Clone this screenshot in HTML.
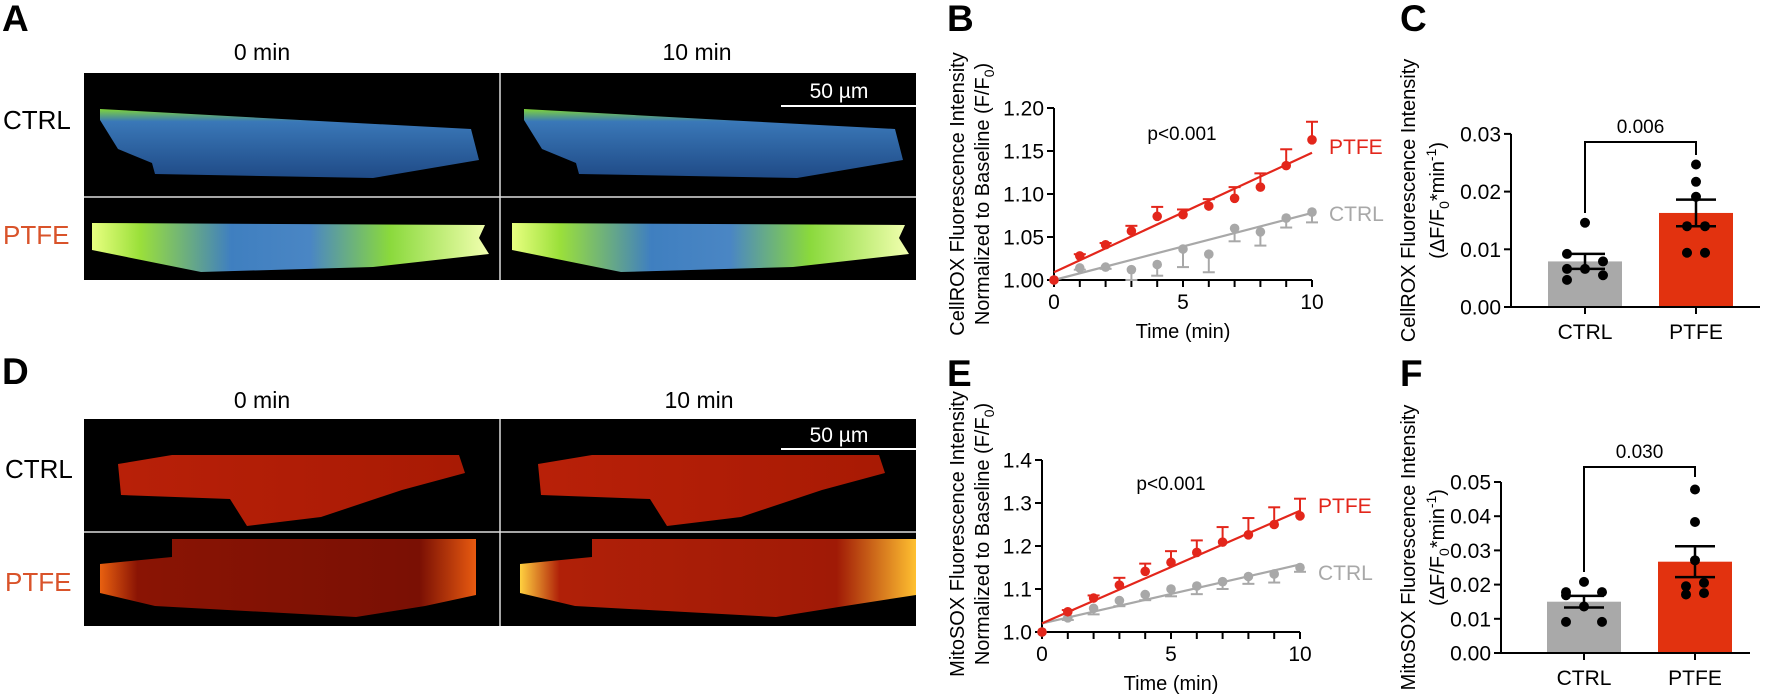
<!DOCTYPE html>
<html><head><meta charset="utf-8">
<style>
html,body{margin:0;padding:0;background:#fff;}
svg{display:block;font-family:"Liberation Sans",Arial,sans-serif;}
</style></head>
<body>
<svg id="fig" width="1772" height="699" viewBox="0 0 1772 699" xmlns="http://www.w3.org/2000/svg">
<defs>
 <linearGradient id="gCtrl" x1="0" y1="0" x2="0" y2="1">
  <stop offset="0" stop-color="#7fd43a"/><stop offset="0.18" stop-color="#3a78b8"/><stop offset="1" stop-color="#1f4a86"/>
 </linearGradient>
 <linearGradient id="gPtfe" x1="0" y1="0" x2="1" y2="0">
  <stop offset="0" stop-color="#e8ff80"/><stop offset="0.12" stop-color="#9be03a"/><stop offset="0.35" stop-color="#3f7fc0"/><stop offset="0.55" stop-color="#4a86c4"/><stop offset="0.75" stop-color="#8ad93c"/><stop offset="1" stop-color="#f2ffb0"/>
 </linearGradient>
 <linearGradient id="rCtrl" x1="0" y1="0" x2="1" y2="0">
  <stop offset="0" stop-color="#b82008"/><stop offset="1" stop-color="#a81a04"/>
 </linearGradient>
 <linearGradient id="rPtfe0" x1="0" y1="0" x2="1" y2="0">
  <stop offset="0" stop-color="#e86010"/><stop offset="0.1" stop-color="#8a1404"/><stop offset="0.85" stop-color="#7a1004"/><stop offset="1" stop-color="#e85a10"/>
 </linearGradient>
 <linearGradient id="rPtfe1" x1="0" y1="0" x2="1" y2="0">
  <stop offset="0" stop-color="#ffd040"/><stop offset="0.1" stop-color="#b02008"/><stop offset="0.8" stop-color="#a01a06"/><stop offset="1" stop-color="#ffc030"/>
 </linearGradient>
</defs>

<!-- Panel letters -->
<g font-weight="bold" font-size="37" fill="#000">
 <text x="2" y="31">A</text>
 <text x="947" y="31">B</text>
 <text x="1400" y="31">C</text>
 <text x="2" y="384">D</text>
 <text x="947" y="386">E</text>
 <text x="1400" y="386">F</text>
</g>

<!-- Panel A images -->
<g>
 <text x="262" y="60" font-size="23" text-anchor="middle">0 min</text>
 <text x="697" y="60" font-size="23" text-anchor="middle">10 min</text>
 <text x="3" y="129" font-size="26">CTRL</text>
 <text x="3" y="244" font-size="26" fill="#d9532a">PTFE</text>
 <rect x="84" y="73" width="832" height="207" fill="#000"/>
 <polygon fill="url(#gCtrl)" points="100,109 300,120 471,129 479,160 373,178 155,174 152,163 118,149 100,120"/>
 <polygon fill="url(#gCtrl)" points="524,109 724,120 895,129 903,160 797,178 579,174 576,163 542,149 524,120"/>
 <polygon fill="url(#gPtfe)" points="92,223 485,225 479,238 489,254 373,267 201,272 92,250"/>
 <polygon fill="url(#gPtfe)" points="512,223 905,225 899,238 909,254 793,267 621,272 512,250"/>
 <line x1="84" y1="197" x2="916" y2="197" stroke="#ddd" stroke-width="1.5"/>
 <line x1="500" y1="73" x2="500" y2="280" stroke="#ddd" stroke-width="1.5"/>
 <line x1="781" y1="106" x2="916" y2="106" stroke="#fff" stroke-width="2"/>
 <text x="839" y="98" font-size="21" fill="#fff" text-anchor="middle">50 µm</text>
</g>

<!-- Panel D images -->
<g>
 <text x="262" y="408" font-size="23" text-anchor="middle">0 min</text>
 <text x="699" y="408" font-size="23" text-anchor="middle">10 min</text>
 <text x="5" y="478" font-size="26">CTRL</text>
 <text x="5" y="591" font-size="26" fill="#d9532a">PTFE</text>
 <rect x="84" y="419" width="832" height="207" fill="#000"/>
 <polygon fill="url(#rCtrl)" points="118,464 172,455 459,455 465,473 402,490 321,517 247,526 230,499 121,495"/>
 <polygon fill="url(#rCtrl)" points="538,464 592,455 879,455 885,473 822,490 741,517 667,526 650,499 541,495"/>
 <polygon fill="url(#rPtfe0)" points="172,539 476,539 476,595 425,606 356,617 155,606 100,593 100,564 172,557"/>
 <polygon fill="url(#rPtfe1)" points="592,539 916,539 916,595 845,606 776,617 575,606 520,593 520,564 592,557"/>
 <line x1="84" y1="532" x2="916" y2="532" stroke="#ddd" stroke-width="1.5"/>
 <line x1="500" y1="419" x2="500" y2="626" stroke="#ddd" stroke-width="1.5"/>
 <line x1="781" y1="449" x2="916" y2="449" stroke="#fff" stroke-width="2"/>
 <text x="839" y="442" font-size="21" fill="#fff" text-anchor="middle">50 µm</text>
</g>

<g id="charts"></g>
</svg>

<script>
// ---- Panel B data (CellROX time course) ----
const timeB = [0,1,2,3,4,5,6,7,8,9,10];
const ptfeB = [1.000,1.028,1.041,1.057,1.074,1.076,1.086,1.095,1.108,1.133,1.163];
const ptfeErrB = [0,0.002,0.002,0.006,0.011,0.006,0.008,0.013,0.016,0.019,0.021];
const ctrlB = [1.000,1.014,1.015,1.012,1.018,1.036,1.030,1.060,1.056,1.072,1.079];
const ctrlErrB = [0,0.002,0.002,0.012,0.013,0.021,0.021,0.015,0.016,0.011,0.012];
const fitB = {ptfe:[1.009,1.148], ctrl:[1.000,1.078]};
const yTicksB = ["1.00","1.05","1.10","1.15","1.20"];
// ---- Panel E data (MitoSOX time course) ----
const timeE = [0,1,2,3,4,5,6,7,8,9,10];
const ptfeE = [1.000,1.047,1.079,1.109,1.141,1.162,1.185,1.209,1.226,1.250,1.270];
const ptfeErrE = [0,0.004,0.006,0.017,0.018,0.026,0.028,0.035,0.039,0.040,0.040];
const ctrlE = [1.000,1.033,1.055,1.073,1.087,1.100,1.107,1.117,1.129,1.135,1.150];
const ctrlErrE = [0,0.005,0.014,0.013,0.013,0.017,0.019,0.017,0.017,0.020,0.010];
const fitE = {ptfe:[1.020,1.282], ctrl:[1.020,1.157]};
const yTicksE = ["1.0","1.1","1.2","1.3","1.4"];
// ---- Panel C data (CellROX slopes) ----
const groups = ["CTRL","PTFE"];
const meanC = [0.0079,0.0163];
const semC = [0.0013,0.0023];
const ctrlDotsC = [0.0146,0.0092,0.0079,0.0066,0.0066,0.0047,0.0055];
const ptfeDotsC = [0.0247,0.0217,0.0191,0.0140,0.0094,0.0140,0.0094];
const yTicksC = ["0.00","0.01","0.02","0.03"];
const pC = "0.006";
// ---- Panel F data (MitoSOX slopes) ----
const meanF = [0.0150,0.0267];
const semF = [0.0017,0.0045];
const ctrlDotsF = [0.0208,0.0178,0.0178,0.0169,0.0136,0.0091,0.0091];
const ptfeDotsF = [0.0478,0.0383,0.0271,0.0195,0.0171,0.0205,0.0175];
const yTicksF = ["0.00","0.01","0.02","0.03","0.04","0.05"];
const pF = "0.030";

const NS = "http://www.w3.org/2000/svg";
const root = document.getElementById("charts");
const RED = "#e3261b", GRAY = "#a8a8a8";
function mk(tag, attrs, parent){
  const e = document.createElementNS(NS, tag);
  for (const k in attrs) e.setAttribute(k, attrs[k]);
  (parent||root).appendChild(e); return e;
}
function txt(x,y,s,size,anchor,fill,parent){
  const t = mk("text",{x:x,y:y,"font-size":size,"text-anchor":anchor||"start",fill:fill||"#000"},parent);
  t.textContent = s; return t;
}
// x-offsets for dots in bar charts (jitter layout)
const jitterOffsets = [[0,-1,1,-1,0,-1,1],[0,0,0,-0.5,-0.5,0.5,0.5]];

function lineChart(cfg){
  const g = mk("g",{});
  
  
  const xs = v => cfg.x0 + v*cfg.pxMin;
  const ys = v => cfg.y0 - (v-cfg.yMin)*cfg.pxUnit;
  const ticks = cfg.yTicks.map(Number);
  const yTop = ys(ticks[ticks.length-1]);
  // axes
  const ya = mk("line",{x1:cfg.x0,y1:yTop,x2:cfg.x0,y2:cfg.y0,stroke:"#000","stroke-width":2},g);
  
  
  const xa = mk("line",{x1:cfg.x0-1,y1:cfg.y0,x2:xs(10),y2:cfg.y0,stroke:"#000","stroke-width":2},g);
  
  
  cfg.yTicks.forEach(s=>{
    const y = ys(Number(s));
    mk("line",{x1:cfg.x0-7,y1:y,x2:cfg.x0,y2:y,stroke:"#000","stroke-width":2},g);
    const t = txt(cfg.x0-10,y+7.5,s,21,"end","#000",g);
    
    
  });
  cfg.times.forEach(v=>{
    const x = xs(v);
    mk("line",{x1:x,y1:cfg.y0,x2:x,y2:cfg.y0+7,stroke:"#000","stroke-width":2},g);
    if (v%5===0){
      const t = txt(x,cfg.y0+29,String(v),21,"middle","#000",g);
      
      
    }
  });
  const xt = txt(xs(5),cfg.y0+58,"Time (min)",20,"middle","#000",g);
  
  
  // fits
  [["ctrl",GRAY],["ptfe",RED]].forEach(([k,c])=>{
    const l = mk("line",{x1:xs(0),y1:ys(cfg.fit[k][0]),x2:xs(10),y2:ys(cfg.fit[k][1]),stroke:c,"stroke-width":2.2},g);
    
    
  });
  // series
  function series(vals, errs, color, dir, name){
    vals.forEach((v,i)=>{
      const x = xs(cfg.times[i]), y = ys(v);
      if (errs[i]>0){
        const ye = ys(v + dir*errs[i]);
        mk("line",{x1:x,y1:y,x2:x,y2:ye,stroke:color,"stroke-width":2},g);
        mk("line",{x1:x-6,y1:ye,x2:x+6,y2:ye,stroke:color,"stroke-width":2},g);
      }
      const c = mk("circle",{cx:x,cy:y,r:4.8,fill:color},g);
      
      
    });
  }
  series(cfg.ctrl, cfg.ctrlErr, GRAY, -1, "ctrl");
  series(cfg.ptfe, cfg.ptfeErr, RED, 1, "ptfe");
  const pl = txt(cfg.pX, cfg.pY, "p<0.001", 19, "middle", "#000", g);
  
  
  const l1 = txt(cfg.labX, cfg.ptfeLabY, "PTFE", 21, "start", RED, g);
  
  
  const l2 = txt(cfg.labX, cfg.ctrlLabY, "CTRL", 21, "start", GRAY, g);
  
  
  const cy = (yTop + cfg.y0)/2 + cfg.titleShift;
  const t1 = txt(0,0,cfg.title1,20,"middle","#000",g);
  t1.setAttribute("transform","translate("+cfg.t1x+","+cy+") rotate(-90)");
  
  
  const t2 = txt(0,0,"",20,"middle","#000",g);
  t2.setAttribute("transform","translate("+cfg.t2x+","+cy+") rotate(-90)");
  t2.innerHTML = 'Normalized to Baseline (F/F<tspan font-size="14" dy="5">0</tspan><tspan dy="-5">)</tspan>';
  
  
}

function barChart(cfg){
  const g = mk("g",{});
  
  
  const ys = v => cfg.y0 - v*cfg.pxUnit;
  const ticks = cfg.yTicks.map(Number);
  const yTop = ys(ticks[ticks.length-1]);
  const centers = [cfg.c0, cfg.c1];
  const colors = ["#a9a9a9","#e2320f"];
  // bars
  cfg.mean.forEach((m,i)=>{
    const b = mk("rect",{x:centers[i]-37,y:ys(m),width:74,height:cfg.y0-ys(m),fill:colors[i]},g);
    
    
  });
  const ya = mk("line",{x1:cfg.x0,y1:yTop,x2:cfg.x0,y2:cfg.y0+1,stroke:"#000","stroke-width":2},g);
  
  
  const xa = mk("line",{x1:cfg.x0,y1:cfg.y0,x2:cfg.xEnd,y2:cfg.y0,stroke:"#000","stroke-width":2},g);
  
  
  cfg.yTicks.forEach(s=>{
    const y = ys(Number(s));
    mk("line",{x1:cfg.x0-7,y1:y,x2:cfg.x0,y2:y,stroke:"#000","stroke-width":2},g);
    const t = txt(cfg.x0-10,y+7.5,s,21,"end","#000",g);
    
    
  });
  groups.forEach((gname,i)=>{
    mk("line",{x1:centers[i],y1:cfg.y0,x2:centers[i],y2:cfg.y0+7,stroke:"#000","stroke-width":2},g);
    const t = txt(centers[i],cfg.y0+32,gname,21,"middle","#000",g);
    
    
  });
  // dots
  [cfg.ctrlDots, cfg.ptfeDots].forEach((dots,i)=>{
    dots.forEach((v,j)=>{
      const c = mk("circle",{cx:centers[i]+jitterOffsets[i][j]*18,cy:ys(v),r:5,fill:"#000"},g);
      
      
    });
  });
  // sem
  cfg.mean.forEach((m,i)=>{
    const x = centers[i], yt = ys(m+cfg.sem[i]), yb = ys(m-cfg.sem[i]);
    mk("line",{x1:x,y1:yt,x2:x,y2:yb,stroke:"#000","stroke-width":2.5},g);
    mk("line",{x1:x-20,y1:yt,x2:x+20,y2:yt,stroke:"#000","stroke-width":2.5},g);
    mk("line",{x1:x-20,y1:yb,x2:x+20,y2:yb,stroke:"#000","stroke-width":2.5},g);
  });
  // bracket
  const br = mk("polyline",{points:[centers[0],cfg.brL,centers[0],cfg.brTop,centers[1],cfg.brTop,centers[1],cfg.brR].join(" "),fill:"none",stroke:"#000","stroke-width":2},g);
  
  
  const pl = txt((centers[0]+centers[1])/2, cfg.brTop-9, cfg.p, 19, "middle", "#000", g);
  
  
  const cy = (yTop + cfg.y0)/2 + cfg.titleShift;
  const t1 = txt(0,0,cfg.title1,20,"middle","#000",g);
  t1.setAttribute("transform","translate("+cfg.t1x+","+cy+") rotate(-90)");
  
  
  const t2 = txt(0,0,"",20,"middle","#000",g);
  t2.setAttribute("transform","translate("+cfg.t2x+","+cy+") rotate(-90)");
  t2.innerHTML = '(ΔF/F<tspan font-size="14" dy="5">0</tspan><tspan dy="-5">*min</tspan><tspan font-size="14" dy="-8">-1</tspan><tspan dy="8">)</tspan>';
  
  
}

lineChart({name:"chart-b-cellrox-timecourse",x0:1054,y0:280,pxMin:25.8,pxUnit:860,yMin:1.0,
  times:timeB,ptfe:ptfeB,ptfeErr:ptfeErrB,ctrl:ctrlB,ctrlErr:ctrlErrB,fit:fitB,yTicks:yTicksB,
  pX:1182,pY:140,labX:1329,ptfeLabY:154,ctrlLabY:221,title1:"CellROX Fluorescence Intensity",t1x:964,t2x:989,titleShift:0});
lineChart({name:"chart-e-mitosox-timecourse",x0:1042,y0:632,pxMin:25.8,pxUnit:430,yMin:1.0,
  times:timeE,ptfe:ptfeE,ptfeErr:ptfeErrE,ctrl:ctrlE,ctrlErr:ctrlErrE,fit:fitE,yTicks:yTicksE,
  pX:1171,pY:490,labX:1318,ptfeLabY:513,ctrlLabY:580,title1:"MitoSOX Fluorescence Intensity",t1x:964,t2x:989,titleShift:-12});
barChart({name:"chart-c-cellrox-slope",x0:1511,y0:307,xEnd:1760,pxUnit:5770,c0:1585,c1:1696,
  mean:meanC,sem:semC,ctrlDots:ctrlDotsC,ptfeDots:ptfeDotsC,yTicks:yTicksC,p:pC,
  brTop:142,brL:213,brR:155,title1:"CellROX Fluorescence Intensity",t1x:1415,t2x:1444,titleShift:-20});
barChart({name:"chart-f-mitosox-slope",x0:1501,y0:653,xEnd:1750,pxUnit:3420,c0:1584,c1:1695,
  mean:meanF,sem:semF,ctrlDots:ctrlDotsF,ptfeDots:ptfeDotsF,yTicks:yTicksF,p:pF,
  brTop:467,brL:572,brR:477,title1:"MitoSOX Fluorescence Intensity",t1x:1415,t2x:1444,titleShift:-20});
</script>
</body></html>
